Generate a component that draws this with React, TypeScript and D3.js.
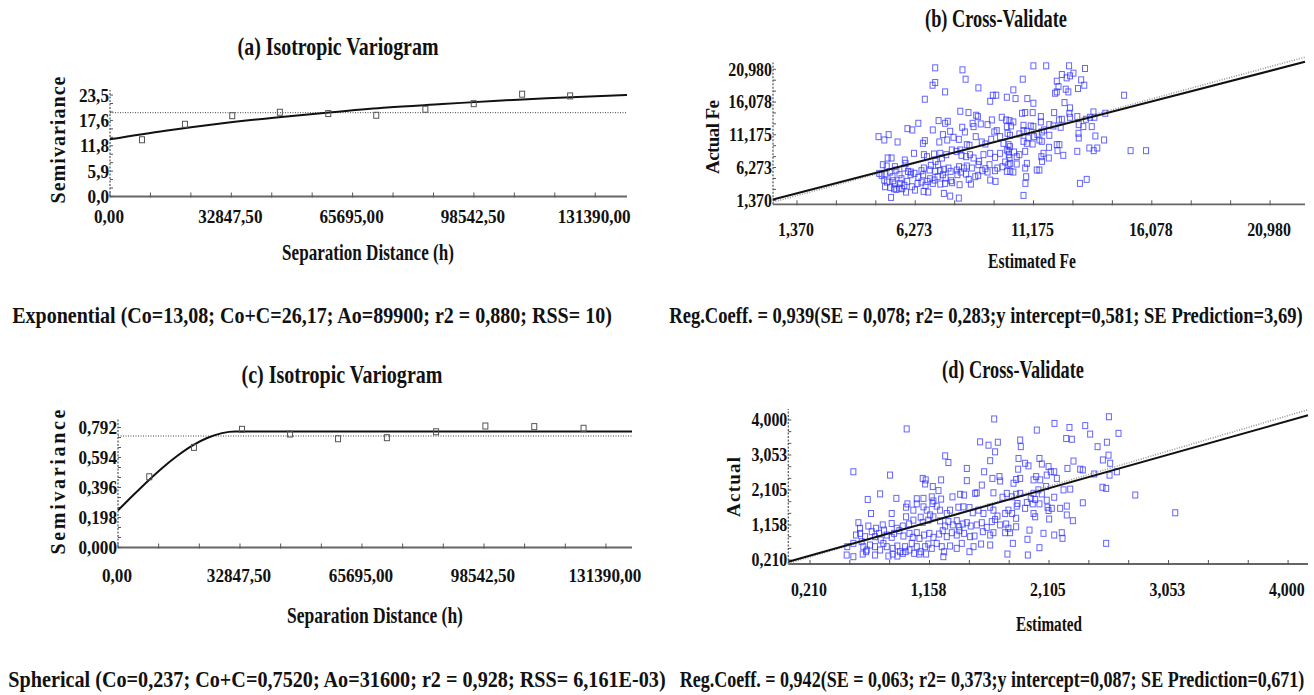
import * as d3 from "d3";
import { useLayoutEffect, useRef, useState } from "react";

// ---- (a) exponential variogram: experimental points [lag h, semivariance]
const varioA: [number, number][] = [
  [8660, 13.2], [20300, 16.8], [33100, 18.8], [46000, 19.6], [59100, 19.3],
  [72100, 18.9], [85400, 20.3], [98500, 21.6], [111600, 23.8], [124600, 23.4],
];
// fitted model curve
const modelA: [number, number][] = [
  [0, 13.3], [15000, 15.3], [30000, 17.0], [45000, 18.4], [60000, 19.6],
  [75000, 20.7], [90000, 21.5], [105000, 22.3], [120000, 22.9], [140000, 23.6],
];
const sillLineA = 19.5;
const yTicksA = [0, 5.9, 11.8, 17.6, 23.5];
const yLabelsA = ["0,0", "5,9", "11,8", "17,6", "23,5"];

// ---- (c) spherical variogram
const varioC: [number, number][] = [
  [8420, 0.467], [20450, 0.661], [33380, 0.78], [46330, 0.749], [59250, 0.718],
  [72400, 0.725], [85650, 0.764], [98920, 0.802], [112080, 0.798], [125360, 0.787],
];
const modelC: [number, number][] = [
  [0, 0.245], [4000, 0.343], [8000, 0.438], [12000, 0.527], [16000, 0.606],
  [20000, 0.673], [24000, 0.723], [28000, 0.755], [31600, 0.765], [138400, 0.765],
];
const sillLineC = 0.736;
const yTicksC = [0, 0.198, 0.396, 0.594, 0.792];
const yLabelsC = ["0,000", "0,198", "0,396", "0,594", "0,792"];

const lagTicks = [0, 32847.5, 65695, 98542.5, 131390];
const lagLabels = ["0,00", "32847,50", "65695,00", "98542,50", "131390,00"];

// ---- (b) cross-validation Fe: [estimated, actual]
const crossB: [number, number][] = [
  [7.1, 21.2], [8.23, 20.9], [8.36, 19.5], [7.1, 19.0], [6.99, 18.6], [8.89, 18.2], [7.51, 17.6], [6.67, 16.5],
  [9.49, 17.1], [9.63, 17.1], [9.38, 16.2], [10.07, 16.8],
  [8.14, 14.7], [8.48, 14.5], [8.8, 14.1], [8.87, 13.9], [6.4, 12.9], [7.24, 13.3], [7.51, 12.9], [7.62, 13.2],
  [5.95, 12.1], [6.15, 11.9], [7.0, 11.9], [7.42, 11.2], [7.72, 11.7], [8.22, 12.3], [8.33, 11.6], [8.65, 12.9],
  [8.69, 12.4], [8.99, 12.8], [9.27, 12.7], [9.45, 13.4], [9.55, 11.6], [9.86, 13.8], [10.04, 13.4], [10.07, 12.4],
  [10.1, 11.4], [9.65, 11.8],
  [4.75, 10.9], [4.99, 10.4], [5.17, 11.2], [5.54, 10.1], [6.59, 9.9], [6.67, 10.3], [7.27, 10.1], [7.6, 10.4],
  [7.86, 10.8], [8.08, 10.5], [8.41, 9.7], [8.52, 9.6], [8.78, 10.9], [9.03, 10.1], [9.18, 9.8], [9.42, 10.5],
  [9.79, 10.9], [9.93, 9.9], [10.14, 8.7],
  [5.13, 7.7], [5.29, 7.7], [5.84, 7.4], [5.87, 6.9], [6.22, 8.4], [6.63, 8.2], [6.76, 7.9], [7.05, 8.3],
  [7.11, 7.2], [7.31, 8.4], [7.38, 7.7], [7.56, 8.2], [7.79, 8.9], [7.98, 8.7], [8.14, 8.9], [8.19, 8.1],
  [8.38, 7.9], [8.54, 8.2], [8.69, 7.7], [8.92, 7.2], [9.1, 8.2], [9.38, 8.4], [9.58, 7.8], [9.79, 8.4],
  [10.0, 7.1], [10.18, 7.7],
  [4.93, 6.7], [5.09, 6.5], [5.43, 6.4], [5.49, 5.9], [5.82, 6.2], [5.97, 5.7], [6.09, 5.6], [6.53, 5.8],
  [6.63, 6.2], [6.87, 5.9], [6.92, 6.6], [7.1, 5.7], [7.22, 6.7], [7.31, 5.8], [7.46, 6.0], [7.65, 6.2],
  [7.74, 5.7], [8.0, 5.9], [8.09, 6.4], [8.29, 6.2], [8.41, 6.5], [8.62, 6.2], [8.89, 6.7], [9.18, 6.1],
  [9.35, 6.7], [9.58, 5.8], [9.68, 6.2], [9.89, 6.4], [10.07, 5.7],
  [4.78, 5.4], [4.88, 5.1], [5.04, 5.3], [5.22, 5.6], [5.33, 4.9], [5.62, 5.2], [5.7, 4.6], [6.08, 5.2],
  [6.24, 5.4], [6.4, 4.8], [6.6, 5.2], [6.89, 4.6], [7.07, 4.4], [7.2, 4.9], [7.42, 5.2], [7.53, 4.7],
  [7.76, 4.3], [8.02, 5.2], [8.16, 5.6], [8.38, 5.3], [8.49, 4.5], [8.76, 4.9], [8.88, 5.1], [9.05, 5.8],
  [9.27, 5.6],
  [4.99, 4.4], [5.1, 4.1], [5.36, 4.3], [5.42, 3.8], [5.65, 3.9], [5.82, 3.6], [5.94, 4.2], [6.13, 3.4],
  [6.37, 3.9], [6.53, 4.1], [6.7, 3.6], [6.78, 4.2], [7.0, 3.9], [7.31, 3.8], [7.51, 3.9], [7.8, 4.0],
  [8.11, 3.7], [8.58, 3.8], [9.38, 4.4], [9.6, 4.2],
  [5.02, 3.4], [5.24, 3.3], [5.39, 3.1], [5.49, 3.0], [5.73, 3.1], [5.89, 2.6], [6.26, 2.9], [6.62, 2.7],
  [6.81, 2.6], [7.46, 2.4], [7.72, 2.0], [8.08, 1.7], [5.27, 1.8], [5.62, 3.2],
  [10.18, 13.3], [10.24, 12.5], [10.14, 9.7], [10.07, 8.9], [10.21, 6.9], [10.21, 5.7],
  [11.17, 21.5], [11.7, 21.5], [12.65, 21.5], [13.31, 21.1], [12.83, 20.4], [12.35, 20.2], [10.73, 19.5],
  [12.69, 20.0], [12.55, 19.7], [12.14, 19.2], [13.15, 19.4], [13.28, 18.6], [12.21, 18.4], [13.02, 18.1],
  [10.34, 17.9], [12.07, 17.4], [12.51, 18.0], [12.62, 17.6], [12.14, 17.6], [10.43, 16.6], [10.92, 16.6],
  [11.17, 15.9], [12.46, 16.0], [12.69, 15.2], [14.93, 17.1],
  [10.34, 13.1], [10.7, 14.4], [10.83, 14.5], [11.14, 14.5], [11.48, 13.9], [11.48, 13.1], [12.03, 14.5],
  [12.23, 13.4], [12.35, 13.5], [12.3, 12.3], [12.66, 14.4], [12.69, 13.8], [12.99, 13.9], [13.35, 13.5],
  [13.52, 13.8], [13.66, 14.6], [13.7, 13.8], [14.15, 14.4], [13.24, 12.4], [13.59, 12.4], [12.0, 12.5],
  [11.83, 12.7], [13.05, 12.7],
  [10.2, 11.1], [10.59, 11.3], [10.76, 11.8], [10.9, 11.7], [11.06, 12.5], [11.17, 12.4], [11.34, 11.2],
  [11.52, 11.6], [11.61, 11.9], [11.83, 11.1], [10.76, 12.6], [10.96, 10.7], [11.2, 10.9], [11.42, 10.4],
  [11.52, 10.2], [10.76, 10.2], [10.9, 9.9], [11.14, 9.8], [13.04, 11.4], [13.05, 10.7], [13.74, 11.0],
  [14.1, 10.4],
  [10.2, 9.4], [10.15, 8.2], [10.37, 8.6], [10.48, 7.9], [10.59, 8.2], [10.83, 8.7], [11.59, 8.4],
  [11.82, 9.3], [12.14, 9.7], [12.25, 9.7], [12.17, 8.8], [12.41, 8.1], [11.81, 7.7], [11.5, 7.9],
  [11.53, 7.2], [12.99, 8.7], [13.49, 9.2], [13.67, 8.8], [13.82, 9.2], [15.2, 8.8], [15.84, 8.8],
  [10.14, 6.7], [10.48, 6.8], [10.9, 6.9], [11.31, 5.9], [11.42, 5.9], [10.34, 5.6], [10.83, 6.2],
  [10.87, 4.9], [10.84, 3.9], [13.1, 3.9], [13.38, 4.5], [10.76, 2.1],
];
const regLineB: [number, number][] = [[0.376, 1.5], [22.43, 22.1]];
const oneToOneB: [number, number][] = [[0.376, 1.1], [22.43, 22.8]];
const ticksB = [1.37, 6.273, 11.175, 16.078, 20.98];
const labelsB = ["1,370", "6,273", "11,175", "16,078", "20,980"];

// ---- (d) cross-validation: [estimated, actual]
const crossD: [number, number][] = [
  [1.671, 4.03], [0.977, 3.76], [1.559, 3.41], [1.626, 3.32], [1.7, 3.4], [1.678, 3.14], [1.282, 3.03],
  [1.308, 2.85], [1.639, 2.9], [1.454, 2.69], [0.554, 2.6], [0.845, 2.51], [1.591, 2.6], [1.657, 2.42],
  [1.713, 2.47], [1.718, 2.35], [1.104, 2.42], [1.128, 2.38], [1.25, 2.38], [1.454, 2.36], [1.123, 2.27],
  [1.573, 2.24], [1.184, 2.2], [1.229, 2.09], [0.668, 1.85], [0.766, 2.0], [0.895, 1.88], [1.057, 1.87],
  [1.11, 1.88], [1.176, 1.92], [1.189, 1.81], [1.25, 1.86], [1.34, 1.92], [1.401, 1.99], [1.432, 1.97],
  [1.52, 2.015], [1.533, 2.03], [1.665, 2.03], [1.771, 2.015], [1.737, 1.91],
  [0.694, 1.47], [0.858, 1.47], [0.972, 1.64], [0.983, 1.73], [0.972, 1.38], [1.03, 1.56], [1.057, 1.73],
  [1.11, 1.65], [1.136, 1.56], [1.163, 1.43], [1.181, 1.74], [1.215, 1.67], [1.242, 1.56], [1.295, 1.47],
  [1.321, 1.56], [1.387, 1.64], [1.427, 1.65], [1.475, 1.63], [1.501, 1.49], [1.546, 1.56], [1.586, 1.47],
  [1.639, 1.64], [1.665, 1.56], [1.697, 1.4], [1.758, 1.47], [1.784, 1.56],
  [0.594, 1.22], [0.607, 1.07], [0.673, 1.13], [0.734, 1.07], [0.787, 1.16], [0.797, 1.02], [0.858, 1.2],
  [0.898, 1.07], [0.946, 1.13], [0.996, 1.185], [1.03, 1.29], [1.088, 1.37], [1.104, 1.23], [1.149, 1.29],
  [1.189, 1.38], [1.242, 1.27], [1.282, 1.13], [1.308, 1.25], [1.343, 1.16], [1.374, 1.275], [1.393, 1.11],
  [1.422, 1.185], [1.454, 1.22], [1.485, 1.13], [1.533, 1.16], [1.573, 1.22], [1.612, 1.094], [1.652, 1.25],
  [1.678, 1.31], [1.718, 1.16], [1.766, 1.185], [1.784, 1.07],
  [0.575, 0.887], [0.607, 0.932], [0.647, 0.842], [0.7, 0.977], [0.726, 0.842], [0.758, 0.932],
  [0.771, 0.752], [0.819, 0.887], [0.858, 0.824], [0.877, 0.932], [0.919, 1.004], [0.951, 0.86],
  [0.999, 0.932], [1.025, 0.824], [1.057, 0.95], [1.078, 0.797], [1.115, 0.887], [1.157, 0.932],
  [1.189, 0.824], [1.234, 0.914], [1.263, 1.004], [1.295, 0.842], [1.335, 0.95], [1.374, 0.887],
  [1.395, 1.004], [1.432, 0.932], [1.48, 0.842], [1.515, 0.86], [1.581, 0.977], [1.639, 0.887],
  [1.665, 0.95], [1.758, 0.95],
  [0.506, 0.571], [0.554, 0.661], [0.62, 0.706], [0.633, 0.571], [0.66, 0.481], [0.686, 0.616],
  [0.726, 0.571], [0.766, 0.481], [0.792, 0.661], [0.819, 0.571], [0.866, 0.526], [0.903, 0.589],
  [0.924, 0.436], [0.964, 0.571], [0.999, 0.481], [1.017, 0.661], [1.057, 0.571], [1.088, 0.436],
  [1.123, 0.571], [1.149, 0.643], [1.176, 0.526], [1.215, 0.661], [1.255, 0.571], [1.274, 0.436],
  [1.321, 0.589], [1.374, 0.526], [1.414, 0.661], [1.475, 0.436], [1.507, 0.571], [1.567, 0.643],
  [1.639, 0.616],
  [0.501, 0.345], [0.554, 0.3], [0.628, 0.372], [0.655, 0.436], [0.726, 0.345], [0.832, 0.318],
  [0.866, 0.372], [0.903, 0.318], [0.946, 0.391], [0.969, 0.436], [1.036, 0.391], [1.078, 0.372],
  [1.131, 0.372], [1.268, 0.3], [1.776, 0.372],
  [2.581, 4.09], [2.149, 3.91], [2.268, 3.8], [2.393, 3.85], [2.009, 3.73], [2.432, 3.62], [2.657, 3.64],
  [2.242, 3.5], [2.287, 3.48], [1.877, 3.46], [1.882, 3.28], [2.565, 3.4], [2.491, 3.28], [1.864, 2.96],
  [2.03, 2.96], [2.049, 2.81], [1.916, 2.83], [1.943, 2.76], [2.533, 2.92], [2.578, 3.05], [2.591, 2.83],
  [2.3, 2.89], [2.252, 2.69], [2.353, 2.67], [2.374, 2.65], [1.861, 2.67], [2.102, 2.74], [2.12, 2.6],
  [2.147, 2.6], [2.168, 2.42], [2.088, 2.51], [2.036, 2.38], [2.004, 2.47], [1.983, 2.38], [1.877, 2.42],
  [1.845, 2.39], [1.824, 2.29], [2.464, 2.54], [2.586, 2.51], [2.644, 2.6],
  [2.221, 2.11], [2.274, 2.13], [2.53, 2.18], [2.559, 2.15], [2.79, 1.97], [2.083, 2.2], [2.022, 2.11],
  [1.983, 2.015], [1.877, 2.015], [1.845, 1.99], [1.811, 1.92], [1.961, 1.88], [2.147, 1.91], [2.088, 1.83],
  [2.049, 2.0], [1.996, 1.85], [1.977, 1.73], [1.93, 1.77], [1.856, 1.74], [1.916, 1.61], [2.03, 1.73],
  [2.094, 1.64], [2.102, 1.55], [2.128, 1.61], [2.194, 1.61], [2.247, 1.67], [2.374, 1.76], [1.996, 1.38],
  [1.983, 1.47], [1.85, 1.67], [1.845, 1.34], [1.813, 1.47], [2.247, 1.43], [2.295, 1.275], [2.107, 1.32],
  [3.107, 1.49], [1.845, 1.11], [1.797, 0.95], [1.951, 1.02], [2.062, 0.932], [2.147, 0.887], [2.207, 0.95],
  [2.213, 0.797], [1.935, 0.77], [1.819, 0.661], [2.03, 0.544], [2.559, 0.661], [1.938, 0.345],
];
const regLineD: [number, number][] = [[0.038, 0.165], [4.16, 4.13]];
const oneToOneD: [number, number][] = [[0.038, 0.12], [4.16, 4.28]];
const ticksD = [0.21, 1.158, 2.105, 3.053, 4.0];
const labelsD = ["0,210", "1,158", "2,105", "3,053", "4,000"];

const captions = [
  "Exponential (Co=13,08; Co+C=26,17; Ao=89900; r2 = 0,880; RSS= 10)",
  "Reg.Coeff. = 0,939(SE = 0,078; r2= 0,283;y intercept=0,581; SE Prediction=3,69)",
  "Spherical (Co=0,237; Co+C=0,7520; Ao=31600; r2 = 0,928; RSS= 6,161E-03)",
  "Reg.Coeff. = 0,942(SE = 0,063; r2= 0,373;y intercept=0,087; SE Prediction=0,671)",
];

const FONT = "'Liberation Serif', 'Times New Roman', serif";
const INK = "#111";

type Scale = d3.ScaleLinear<number, number>;

function minorTicks(scale: Scale, majors: number[]) {
  const step = (majors[1] - majors[0]) / 3;
  const [d0, d1] = scale.domain();
  const i0 = Math.ceil((d0 - majors[0]) / step - 1e-6);
  const i1 = Math.floor((d1 - majors[0]) / step + 1e-6);
  return d3.range(i0, i1 + 1).map((i) => majors[0] + i * step);
}

function Axes({ x, y, xTicks, xLabels, yTicks, yLabels, fs, sx, labelGap }: {
  x: Scale; y: Scale; xTicks: number[]; xLabels: string[]; yTicks: number[]; yLabels: string[];
  fs: number; sx: number; labelGap: number;
}) {
  const [x0, x1] = x.range();
  const [y0, y1] = y.range();
  return (
    <g>
      <line x1={x0} x2={x1} y1={y0} y2={y0} stroke="#666" strokeWidth={1.8} />
      {minorTicks(x, xTicks).map((t, i) => (
        <line key={i} x1={x(t)} x2={x(t)} y1={y0 - 4} y2={y0 + 1} stroke="#555" strokeWidth={1} />
      ))}
      <line x1={x0} x2={x0} y1={y0} y2={y1} stroke="#555" strokeWidth={1.2} strokeDasharray="2,1.5" />
      {minorTicks(y, yTicks).map((t, i) => (
        <line key={i} x1={x0} x2={x0 + 3} y1={y(t)} y2={y(t)} stroke="#555" strokeWidth={1} />
      ))}
      {xTicks.map((t, i) => (
        <text key={i} transform={`translate(${x(t) - 1},${y0 + labelGap}) scale(${sx},1)`} textAnchor="middle"
          fontSize={fs} fontWeight="bold" fill={INK}>{xLabels[i]}</text>
      ))}
      {yTicks.map((t, i) => (
        <text key={i} transform={`translate(${x0 - 1},${y(t) + fs * 0.34}) scale(${sx},1)`} textAnchor="end"
          fontSize={fs} fontWeight="bold" fill={INK}>{yLabels[i]}</text>
      ))}
    </g>
  );
}

// horizontal text squeezed to a target width (condensed bold look)
function FitText({ x, y, text, size, len }: { x: number; y: number; text: string; size: number; len: number }) {
  const ref = useRef<SVGTextElement>(null);
  const [s, setS] = useState(1);
  useLayoutEffect(() => {
    if (ref.current) {
      const w = ref.current.getComputedTextLength();
      if (w > 0) setS(len / w);
    }
  }, [text, size, len]);
  return (
    <text ref={ref} transform={`translate(${x},${y}) scale(${s},1)`} textAnchor="middle"
      fontSize={size} fontWeight="bold" fill={INK}>{text}</text>
  );
}

function VLabel({ x, y, text, size, len }: { x: number; y: number; text: string; size: number; len: number }) {
  return (
    <text transform={`translate(${x},${y}) rotate(-90)`} textAnchor="middle" fontSize={size}
      fontWeight="bold" fill={INK} textLength={len} lengthAdjust="spacing">{text}</text>
  );
}

function Variogram({ x, y, pts, model, sill, yTicks, yLabels, labelGap }: {
  x: Scale; y: Scale; pts: [number, number][]; model: [number, number][]; sill: number;
  yTicks: number[]; yLabels: string[]; labelGap: number;
}) {
  const line = d3.line<[number, number]>().x((d) => x(d[0])).y((d) => y(d[1])).curve(d3.curveMonotoneX);
  const [x0, x1] = x.range();
  return (
    <g>
      <Axes x={x} y={y} xTicks={lagTicks} xLabels={lagLabels} yTicks={yTicks} yLabels={yLabels}
        fs={19.5} sx={0.88} labelGap={labelGap} />
      <line x1={x0} x2={x1} y1={y(sill)} y2={y(sill)} stroke="#444" strokeWidth={1} strokeDasharray="1,1.5" />
      <path d={line(model) ?? ""} fill="none" stroke={INK} strokeWidth={2} />
      {pts.map((d, i) => (
        <rect key={i} x={x(d[0]) - 2.5} y={y(d[1]) - 3} width={5} height={6} fill="none" stroke="#555" strokeWidth={1} />
      ))}
    </g>
  );
}

function CrossVal({ x, y, pts, reg, ident, ticks, labels }: {
  x: Scale; y: Scale; pts: [number, number][]; reg: [number, number][]; ident: [number, number][];
  ticks: number[]; labels: string[];
}) {
  const line = d3.line<[number, number]>().x((d) => x(d[0])).y((d) => y(d[1]));
  return (
    <g>
      <Axes x={x} y={y} xTicks={ticks} xLabels={labels} yTicks={ticks} yLabels={labels}
        fs={18.5} sx={0.86} labelGap={32} />
      {pts.map((d, i) => (
        <rect key={i} x={x(d[0]) - 2.5} y={y(d[1]) - 3} width={5} height={6} fill="none"
          stroke="#2a2aff" strokeOpacity={0.72} strokeWidth={1} />
      ))}
      <path d={line(ident) ?? ""} fill="none" stroke="#999" strokeWidth={1.6} strokeDasharray="1,1.5" />
      <path d={line(reg) ?? ""} fill="none" stroke={INK} strokeWidth={2} />
    </g>
  );
}

export default function App() {
  const xA = d3.scaleLinear().domain([0, 140000]).range([110, 627]);
  const yA = d3.scaleLinear().domain([0, 24.8]).range([196.5, 89.9]);
  const xC = d3.scaleLinear().domain([0, 138400]).range([118, 632]);
  const yC = d3.scaleLinear().domain([0, 0.845]).range([547.5, 419.5]);
  const xB = d3.scaleLinear().domain([0.376, 22.43]).range([773, 1305]);
  const yB = d3.scaleLinear().domain([0.77, 22.0]).range([204.3, 62.5]);
  const xD = d3.scaleLinear().domain([0.038, 4.16]).range([788.3, 1308]);
  const yD = d3.scaleLinear().domain([0.102, 4.3]).range([564, 409]);

  return (
    <svg width={1314} height={695} fontFamily={FONT}
      style={{ position: "absolute", left: 0, top: 0, background: "#fff" }}>
      <rect width={1314} height={695} fill="#fff" />

      {/* (a) */}
      <FitText x={338} y={55} text="(a) Isotropic Variogram" size={25} len={201} />
      <Variogram x={xA} y={yA} pts={varioA} model={modelA} sill={sillLineA} yTicks={yTicksA} yLabels={yLabelsA}
        labelGap={26} />
      <VLabel x={65} y={140} text="Semivariance" size={20} len={127} />
      <FitText x={368} y={260} text="Separation Distance (h)" size={23} len={172} />
      <FitText x={312} y={323} text={captions[0]} size={24} len={600} />

      {/* (b) */}
      <FitText x={996} y={27} text="(b) Cross-Validate" size={25} len={142} />
      <CrossVal x={xB} y={yB} pts={crossB} reg={regLineB} ident={oneToOneB} ticks={ticksB} labels={labelsB} />
      <VLabel x={719} y={137} text="Actual Fe" size={19} len={74} />
      <FitText x={1032} y={268} text="Estimated Fe" size={20} len={88} />
      <FitText x={986} y={323} text={captions[1]} size={24} len={634} />

      {/* (c) */}
      <FitText x={342} y={383} text="(c) Isotropic Variogram" size={25} len={201} />
      <Variogram x={xC} y={yC} pts={varioC} model={modelC} sill={sillLineC} yTicks={yTicksC} yLabels={yLabelsC}
        labelGap={34} />
      <VLabel x={65} y={482} text="Semivariance" size={20} len={145} />
      <FitText x={375} y={623} text="Separation Distance (h)" size={23} len={176} />
      <FitText x={337} y={687} text={captions[2]} size={24} len={658} />

      {/* (d) */}
      <FitText x={1013} y={378} text="(d) Cross-Validate" size={25} len={142} />
      <CrossVal x={xD} y={yD} pts={crossD} reg={regLineD} ident={oneToOneD} ticks={ticksD} labels={labelsD} />
      <VLabel x={740} y={487} text="Actual" size={19} len={60} />
      <FitText x={1049} y={631} text="Estimated" size={20} len={66} />
      <FitText x={992} y={687} text={captions[3]} size={24} len={625} />
    </svg>
  );
}
